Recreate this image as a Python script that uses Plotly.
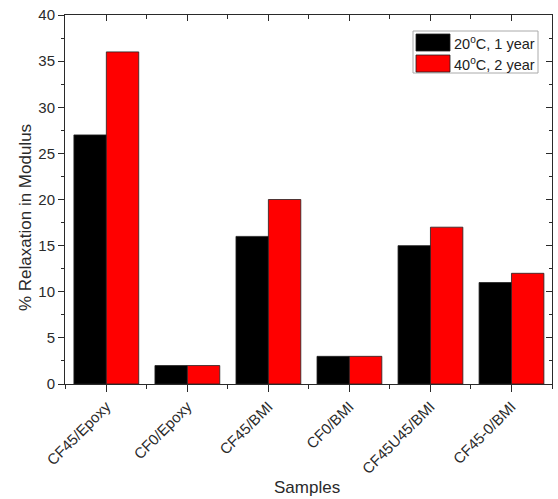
import plotly.graph_objects as go

categories = ["CF45/Epoxy", "CF0/Epoxy", "CF45/BMI", "CF0/BMI", "CF45U45/BMI", "CF45-0/BMI"]
series_names = ["20<sup>o</sup>C, 1 year", "40<sup>o</sup>C, 2 year"]
values_20c = [27, 2, 16, 3, 15, 11]
values_40c = [36, 2, 20, 3, 17, 12]
colors = ["#000000", "#ff0000"]
y_ticks = [0, 5, 10, 15, 20, 25, 30, 35, 40]

xpos = list(range(len(categories)))
font = "Liberation Sans, Arial, sans-serif"
ink = "#2a2a2a"

fig = go.Figure()
for name, vals, col in zip(series_names, [values_20c, values_40c], colors):
    fig.add_trace(go.Bar(x=xpos, y=vals, name=name, marker=dict(color=col, line=dict(color="#222222", width=0.8)),
                         showlegend=False))

fig.update_layout(
    width=558, height=499,
    margin=dict(l=65, r=6, t=15, b=115),
    plot_bgcolor="white", paper_bgcolor="white",
    barmode="group", bargap=0.2, bargroupgap=0,
    font=dict(family=font, color=ink),
    xaxis=dict(
        range=[-0.51, 5.5], tickvals=xpos, ticktext=categories, tickangle=-45, automargin=False,
        ticks="outside", ticklen=7, tickwidth=1, tickcolor=ink,
        minor=dict(tick0=0.5, dtick=1, ticks="outside", ticklen=4, tickcolor=ink),
        showline=True, linecolor=ink, linewidth=1, mirror=True,
        showgrid=False, zeroline=False,
        tickfont=dict(size=15, family=font, color=ink),
    ),
    yaxis=dict(
        range=[0, 40], tickvals=y_ticks, automargin=False,
        ticks="outside", ticklen=6, tickwidth=1, tickcolor=ink,
        minor=dict(tick0=2.5, dtick=5, ticks="outside", ticklen=3, tickcolor=ink),
        showline=True, linecolor=ink, linewidth=1, mirror=True,
        showgrid=False, zeroline=False,
        tickfont=dict(size=15, family=font, color=ink),
    ),
    xaxis2=dict(
        overlaying="x", side="top", range=[-0.51, 5.5], tickvals=xpos, showticklabels=False, automargin=False,
        ticks="inside", ticklen=6, tickcolor=ink,
        minor=dict(tick0=0.5, dtick=1, ticks="inside", ticklen=4, tickcolor=ink),
        showgrid=False, zeroline=False, showline=False,
    ),
    yaxis2=dict(
        overlaying="y", side="right", range=[0, 40], tickvals=y_ticks, showticklabels=False, automargin=False,
        ticks="inside", ticklen=6, tickcolor=ink,
        minor=dict(tick0=2.5, dtick=5, ticks="inside", ticklen=3, tickcolor=ink),
        showgrid=False, zeroline=False, showline=False,
    ),
)
# invisible trace to activate the mirrored tick axes
fig.add_trace(go.Scatter(x=[0], y=[0], xaxis="x2", yaxis="y2", mode="markers",
                         marker=dict(opacity=0), showlegend=False, hoverinfo="skip"))

def px_x(px):
    return (px - 65) / 487
def px_y(py):
    return (384 - py) / 369

annotations = [
    dict(xref="paper", yref="paper", x=px_x(307), y=px_y(487), xanchor="center", yanchor="middle",
         text="Samples", showarrow=False, font=dict(size=17, family=font, color=ink)),
    dict(xref="paper", yref="paper", x=px_x(25), y=px_y(218), xanchor="center", yanchor="middle",
         text="% Relaxation in Modulus", textangle=-90, showarrow=False, font=dict(size=17, family=font, color=ink)),
]

# custom legend
shapes = [dict(type="rect", xref="paper", yref="paper", x0=px_x(413), x1=px_x(538), y0=px_y(73), y1=px_y(31),
               line=dict(color="#aaaaaa", width=1), fillcolor="white", layer="above")]
rows = [(34, 51), (55, 72)]
for (t, b), col, name in zip(rows, colors, series_names):
    shapes.append(dict(type="rect", xref="paper", yref="paper", x0=px_x(416), x1=px_x(450), y0=px_y(b), y1=px_y(t),
                       line=dict(color="#222", width=0.8), fillcolor=col, layer="above"))
    annotations.append(dict(xref="paper", yref="paper", x=px_x(452), y=px_y((t + b) / 2), xanchor="left", yanchor="middle",
                            text=name, showarrow=False, font=dict(size=14.5, family=font, color="#222")))
fig.update_layout(shapes=shapes, annotations=annotations)

fig.write_html("out.html", config={"displayModeBar": False},
               post_script="document.body.style.margin='0px';document.body.style.overflow='hidden';")
